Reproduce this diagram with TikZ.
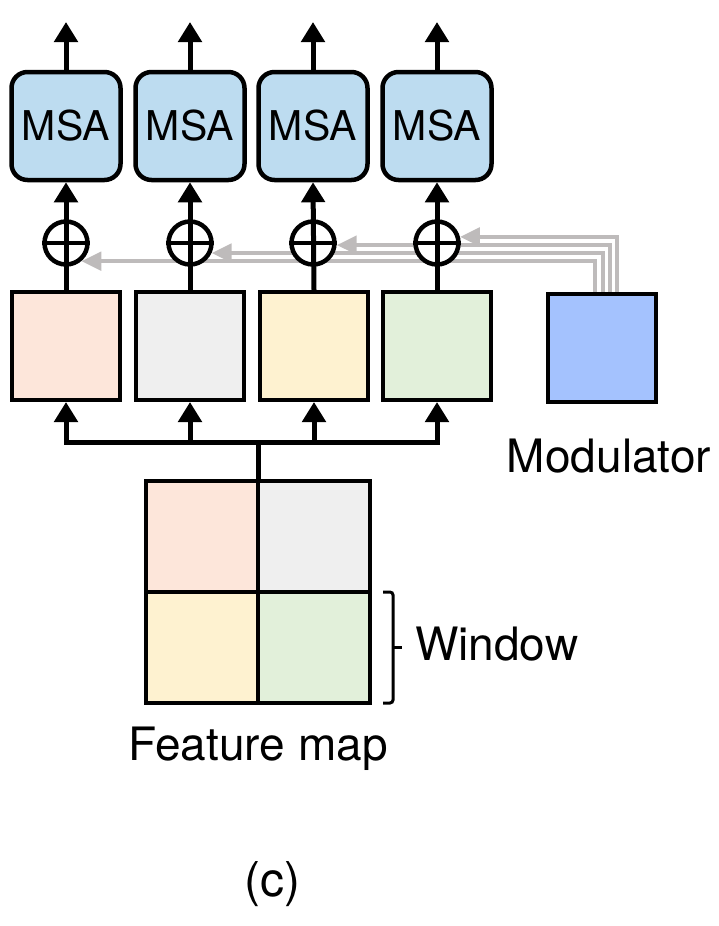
\documentclass[tikz,border=0pt]{standalone}
\usepackage{fontspec}
\setmainfont{TeX Gyre Heros}
\usetikzlibrary{arrows.meta,calc,backgrounds}
\definecolor{msablue}{RGB}{189,220,240}
\definecolor{modblue}{RGB}{164,194,254}
\definecolor{cpeach}{RGB}{253,230,218}
\definecolor{cgray}{RGB}{239,239,239}
\definecolor{cyellow}{RGB}{254,242,208}
\definecolor{cgreen}{RGB}{226,240,218}
\definecolor{garrow}{RGB}{190,187,187}
\begin{document}
\begin{tikzpicture}[x=1pt,y=-1pt,
  msabox/.style={draw,line width=4.5pt,fill=msablue,rounded corners=16pt,minimum width=109pt,minimum height=108pt,inner sep=0pt,font=\fontsize{41}{45}\selectfont},
  tok/.style={draw,line width=4pt,minimum width=108pt,minimum height=108pt,inner sep=0pt},
  cell/.style={draw,line width=4pt,minimum width=112pt,minimum height=111pt,inner sep=0pt,outer sep=0pt},
  plusc/.style={circle,draw,line width=4.5pt,fill=white,minimum size=43pt,inner sep=0pt},
  blk/.style={line width=5pt,-{Triangle[length=20pt,width=23pt]}},
  plain/.style={line width=5pt},
  gry/.style={draw=garrow,line width=4.5pt,-{Triangle[length=20pt,width=18pt]}},
  lab/.style={font=\fontsize{46}{50}\selectfont,inner sep=0pt}
]
\useasboundingbox (0,0) rectangle (718,926);

% MSA boxes
\node[msabox] (m1) at (66,126) {MSA};
\node[msabox] (m2) at (190,126) {MSA};
\node[msabox] (m3) at (313,126) {MSA};
\node[msabox] (m4) at (437,126) {MSA};

% output coordinates
\coordinate (o1) at (66,22);
\coordinate (o2) at (190,22);
\coordinate (o3) at (313,22);
\coordinate (o4) at (437,22);

% tokens
\node[tok,fill=cpeach]  (t1) at (66,346) {};
\node[tok,fill=cgray]   (t2) at (190,346) {};
\node[tok,fill=cyellow] (t3) at (314,346) {};
\node[tok,fill=cgreen]  (t4) at (437,346) {};

% modulator
\node[tok,fill=modblue,minimum width=108pt,minimum height=108pt] (mod) at (602,348) {};
\node[lab,anchor=base] (modl) at (609,472) {Modulator};

% plus circles
\node[plusc] (c1) at (66,243) {};
\node[plusc] (c2) at (190,243) {};
\node[plusc] (c3) at (313,243) {};
\node[plusc] (c4) at (437,243) {};

% gray modulation arrows (behind circles)
\begin{scope}[on background layer]
\draw[gry] ($(mod.north)+(15,0)$) |- (c4.15);
\draw[gry] ($(mod.north)+(8,0)$) |- (c3.-5);
\draw[gry] ($(mod.north)+(1,0)$) |- (c2.-25);
\draw[gry] ($(mod.north)+(-7,0)$) |- (c1.-50);
\end{scope}

% crosses and vertical arrows
\foreach \i in {1,2,3,4}{
  \draw[line width=4pt] (c\i.west) -- (c\i.east);
  \draw[blk] (t\i.north) -- (m\i.south);
  \draw[blk] (m\i.north) -- (o\i);
}

% feature map
\node[cell,fill=cpeach]  (f1) at (202,536.5) {};
\node[cell,fill=cgray]   (f2) at (314,536.5) {};
\node[cell,fill=cyellow] (f3) at (202,647.5) {};
\node[cell,fill=cgreen]  (f4) at (314,647.5) {};
\node[lab,anchor=base] (fml) at (258,760) {Feature map};

% bus
\coordinate (bus) at (258,442);
\draw[plain] (f1.north east) -- (bus);
\foreach \i in {1,2,3,4}{
  \draw[blk] (bus) -| (t\i.south);
}

% window brace
\draw[line width=3pt,rounded corners=3pt] ($(f4.north east)+(13,0)$) -- ($(f4.north east)+(23,0)$) -- ($(f4.south east)+(23,0)$) -- ($(f4.south east)+(13,0)$);
\draw[line width=3pt] ($(f4.east)+(23,0)$) -- ($(f4.east)+(32,0)$);
\node[lab,anchor=base west] (winl) at (415,660) {Window};

% caption
\node[lab,anchor=base,font=\fontsize{48}{52}\selectfont] (cap) at (272,896) {(c)};
\end{tikzpicture}
\end{document}
